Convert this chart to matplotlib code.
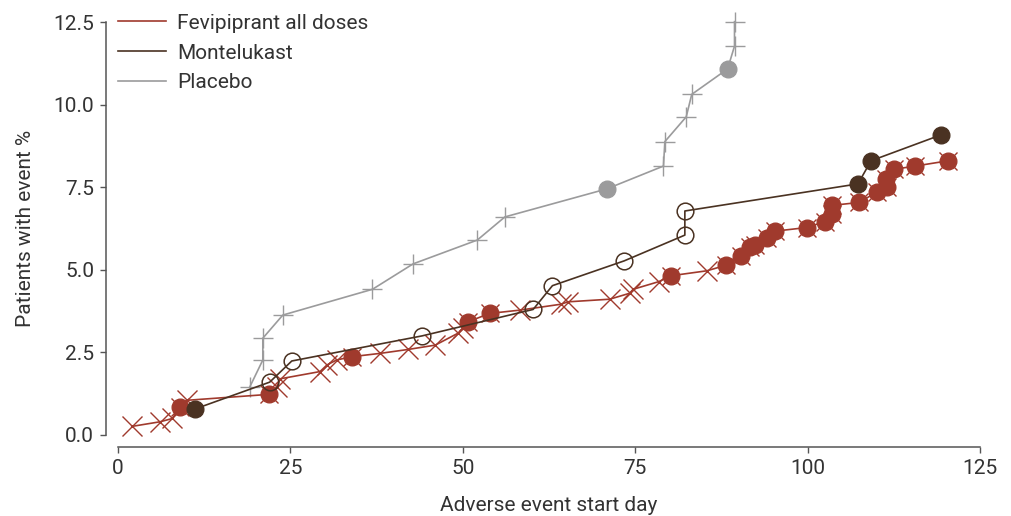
#!/usr/bin/env python3
import matplotlib
matplotlib.use("Agg")
import matplotlib.pyplot as plt
from matplotlib.lines import Line2D

plt.rcParams['font.family'] = ['Roboto', 'DejaVu Sans']

# cumulative adverse events: start day, % patients, marker kind
# kind: "x"/"+" = event, "o" = filled circle, "c" = open circle
fev_day = [2.0, 6.1, 7.9, 9.0, 10.0, 21.9, 23.0, 23.5, 29.3, 30.3, 31.7, 33.9,
           38.0, 42.1, 46.0, 49.3, 50.0, 50.8, 53.9, 58.3, 64.3, 65.2, 71.3,
           74.2, 74.7, 78.4, 80.2, 85.4, 88.2, 90.3, 91.6, 92.3, 94.1, 95.3,
           99.9, 102.5, 103.6, 103.6, 107.5, 110.0, 111.5, 111.4, 112.5,
           115.6, 120.4]
fev_pct = [0.26, 0.40, 0.50, 0.86, 1.05, 1.23, 1.45, 1.70, 1.92, 2.12, 2.27, 2.37,
           2.47, 2.59, 2.72, 3.08, 3.24, 3.43, 3.68, 3.78, 3.96, 4.03, 4.11,
           4.29, 4.41, 4.64, 4.82, 4.97, 5.14, 5.42, 5.70, 5.75, 5.95, 6.17,
           6.28, 6.46, 6.69, 6.95, 7.04, 7.35, 7.51, 7.74, 8.04,
           8.14, 8.30]
fev_kind = ["x", "x", "x", "o", "x", "o", "x", "x", "x", "x", "x", "o",
            "x", "x", "x", "x", "x", "o", "o", "x", "x", "x", "x",
            "x", "x", "x", "o", "x", "o", "o", "o", "o", "o", "o",
            "o", "o", "o", "o", "o", "o", "o", "o", "o",
            "o", "o"]

mon_day = [11.2, 22.0, 25.2, 44.1, 60.2, 63.0, 73.4, 82.2, 82.2, 107.3, 109.2, 119.3]
mon_pct = [0.79, 1.60, 2.24, 3.00, 3.80, 4.52, 5.27, 6.05, 6.78, 7.60, 8.30, 9.08]
mon_kind = ["o", "c", "c", "c", "c", "c", "c", "c", "c", "o", "o", "o"]

pla_day = [19.1, 21.0, 21.0, 23.9, 36.9, 42.8, 52.1, 56.1, 70.9, 79.1, 79.3,
           82.4, 83.2, 88.4, 89.4, 89.4]
pla_pct = [1.45, 2.27, 2.93, 3.63, 4.41, 5.18, 5.90, 6.60, 7.45, 8.14, 8.88,
           9.63, 10.31, 11.08, 11.77, 12.51]
pla_kind = ["+", "+", "+", "+", "+", "+", "+", "+", "o", "+", "+",
            "+", "+", "o", "+", "+"]

RED = "#a03a2d"
BROWN = "#4a3222"
GRAY = "#9b9b9c"
AX = "#555555"
TXT = "#333333"
FS = 15

fig = plt.figure(figsize=(10.11, 5.16), dpi=100)
ax = fig.add_axes([118/1011, 1-435/516, 862/1011, 413/516])


def draw(days, pct, kinds, color, z):
    ax.plot(days, pct, '-', color=color, lw=1.2, zorder=z, clip_on=False)
    for d, p, k in zip(days, pct, kinds):
        if k in ("x", "+"):
            ax.plot(d, p, marker=k, color=color, ms=14, mew=1.0, zorder=z+0.1,
                    clip_on=False)
        elif k == "o":
            if color == RED:
                ax.plot(d, p, marker="x", color=color, ms=12.5, mew=1.0,
                        zorder=z+0.1, clip_on=False)
            ax.plot(d, p, marker="o", color=color, mec=color, ms=12,
                    zorder=z+0.2, clip_on=False)
        else:
            ax.plot(d, p, marker="o", mfc="none", mec=color, ms=12, mew=1.1,
                    zorder=z+0.2, clip_on=False)


draw(pla_day, pla_pct, pla_kind, GRAY, 2)
draw(fev_day, fev_pct, fev_kind, RED, 3)
draw(mon_day, mon_pct, mon_kind, BROWN, 4)

ax.set_xlim(0, 125)
ax.set_ylim(0, 12.5)
ax.set_xticks([0, 25, 50, 75, 100, 125])
ax.set_yticks([0, 2.5, 5, 7.5, 10, 12.5])
ax.set_yticklabels(["0.0", "2.5", "5.0", "7.5", "10.0", "12.5"])

for s in ("top", "right"):
    ax.spines[s].set_visible(False)
for s in ("left", "bottom"):
    ax.spines[s].set_position(("outward", 8.6))
    ax.spines[s].set_color(AX)
    ax.spines[s].set_linewidth(1.1)
ax.spines["left"].set_bounds(0, 12.5)
ax.spines["bottom"].set_bounds(0, 125)
ax.tick_params(direction="out", length=4.5, width=1.0, color=AX,
               labelsize=FS, labelcolor=TXT)
ax.tick_params(axis="x", pad=4)
ax.tick_params(axis="y", pad=4)

ax.set_xlabel("Adverse event start day", fontsize=FS, color=TXT, labelpad=13)
ax.set_ylabel("Patients with event %", fontsize=FS, color=TXT, labelpad=13)

handles = [Line2D([], [], color=RED, lw=1.2),
           Line2D([], [], color=BROWN, lw=1.2),
           Line2D([], [], color=GRAY, lw=1.2)]
ax.legend(handles, ["Fevipiprant all doses", "Montelukast", "Placebo"],
          loc="upper left", bbox_to_anchor=(0.0, 1.02), frameon=False,
          fontsize=FS, handlelength=2.3, handletextpad=0.55, labelspacing=0.52,
          borderaxespad=0, borderpad=0, labelcolor=TXT)

fig.savefig("out.png", dpi=100)
